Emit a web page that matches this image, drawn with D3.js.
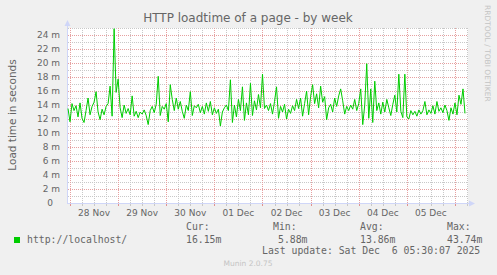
<!DOCTYPE html>
<html lang="en">
<head>
    <meta charset="UTF-8">
    <title>HTTP loadtime of a page - by week</title>
    <script src="https://d3js.org/d3.v7.min.js"></script>
    <style>
        body { margin: 0; background: #f0f0f0; }
        text { font-family: "DejaVu Sans", sans-serif; fill: #666; }
        .mono { font-family: "DejaVu Sans Mono", monospace; font-size: 9.8px; }
    </style>
</head>
<body>
<div id="chart"></div>
<script>
    // hourly load time samples (ms), Nov 27 23:00 .. Dec 6 05:00
    const loadMs = [
        13.5, 11.6, 14.2, 13.2, 13.9, 12.3, 14.3, 12.1, 11.5, 13.2,
        15.0, 12.6, 13.8, 14.4, 15.9, 13.0, 11.9, 13.4, 12.6, 13.8,
        14.2, 16.7, 12.4, 24.9, 15.8, 17.7, 13.6, 12.2, 14.0, 12.8,
        13.5, 12.6, 15.3, 12.4, 13.1, 12.2, 13.0, 12.7, 13.3, 12.5,
        11.2, 13.2, 13.8, 12.9, 14.1, 18.1, 12.5, 13.8, 13.4, 14.2,
        11.6, 16.9, 14.8, 13.2, 15.0, 13.4, 14.5, 13.1, 12.1, 14.0,
        13.2, 15.9, 12.5, 13.9, 13.6, 14.1, 12.9, 13.8, 12.7, 14.3,
        13.1, 14.5, 12.6, 13.6, 12.8, 13.4, 11.0, 13.0, 13.6, 14.0,
        13.2, 17.6, 11.5, 14.0, 12.3, 14.8, 13.2, 16.6, 11.8, 14.3,
        12.6, 17.1, 12.5, 14.6, 13.3, 15.5, 13.6, 18.4, 13.5, 14.0,
        13.2, 14.2, 12.7, 14.5, 16.6, 12.1, 13.8, 13.0, 14.1, 12.0,
        13.4, 12.8, 13.9, 13.2, 14.8, 13.5, 15.0, 12.4, 14.2, 16.0,
        12.6, 15.2, 16.9, 14.2, 15.6, 13.6, 16.7, 14.4, 15.2, 11.9,
        13.6, 14.1, 13.0, 15.0, 13.8, 15.3, 16.3, 14.6, 12.7, 13.8,
        13.2, 14.0, 13.4, 14.8, 13.2, 14.2, 16.3, 11.2, 14.0, 19.9,
        12.1, 16.3, 11.5, 17.4, 13.2, 14.3, 12.7, 14.4, 13.0, 14.8,
        13.6, 12.5, 14.1, 15.4, 13.0, 18.4, 13.1, 12.2, 18.4, 12.3,
        12.0, 13.2, 12.6, 13.1, 12.4, 13.3, 12.7, 13.2, 14.5, 12.6,
        13.3, 12.8, 13.9, 12.7, 14.5, 13.1, 13.6, 12.9, 14.0, 13.2,
        11.8, 13.6, 12.7, 14.3, 12.6, 15.4, 14.1, 16.3, 12.8
    ];
    const firstSample = new Date(Date.UTC(2025, 10, 27, 23, 0));
    const viewStart = new Date(Date.UTC(2025, 10, 27, 22, 30));
    const viewEnd = new Date(Date.UTC(2025, 11, 6, 6, 30));

    const yMax = 25;
    const legendHeads = ["Cur:", "Min:", "Avg:", "Max:"];
    const legendVals = ["16.15m", "5.88m", "13.86m", "43.74m"];
    const lastUpdate = "Last update: Sat Dec  6 05:30:07 2025";

    const W = 497, H = 275;
    const plotL = 67, plotR = 468, plotT = 28, plotB = 203;
    const minorGrid = "#c8c8c8", majorGrid = "#e6a0a0";

    const svg = d3.select("#chart").append("svg")
        .attr("width", W).attr("height", H);

    // dotted grid patterns (1px on, 1px off)
    const defs = svg.append("defs");
    [["hMinor", 2, 1, minorGrid], ["hMajor", 2, 1, majorGrid],
     ["vMinor", 1, 2, minorGrid], ["vMajor", 1, 2, majorGrid]].forEach(([id, pw, ph, c]) => {
        defs.append("pattern")
            .attr("id", id)
            .attr("patternUnits", "userSpaceOnUse")
            .attr("width", pw).attr("height", ph)
            .append("rect").attr("width", 1).attr("height", 1).attr("fill", c);
    });

    svg.append("rect").attr("width", W).attr("height", H).attr("fill", "#f0f0f0");
    svg.append("rect")
        .attr("x", plotL).attr("y", plotT)
        .attr("width", plotR - plotL).attr("height", plotB - plotT)
        .attr("fill", "#fff");

    const x = d3.scaleUtc().domain([viewStart, viewEnd]).range([plotL, plotR]);
    const y = d3.scaleLinear().domain([0, yMax]).range([plotB, plotT]);

    const data = loadMs.map((v, i) => ({ t: d3.utcHour.offset(firstSample, i), v: v }));

    const grid = svg.append("g").attr("shape-rendering", "crispEdges");

    // horizontal grid
    d3.range(1, yMax + 1).forEach(v => {
        grid.append("rect")
            .attr("x", plotL + 1).attr("width", plotR - plotL - 1)
            .attr("y", Math.round(y(v))).attr("height", 1)
            .attr("fill", v % 2 === 0 ? "url(#hMajor)" : "url(#hMinor)");
    });

    // vertical grid: minor every 6 h, major at midnight
    d3.utcHour.every(6).range(viewStart, viewEnd).forEach(t => {
        const major = t.getUTCHours() === 0;
        const px = Math.round(x(t));
        grid.append("rect")
            .attr("x", px).attr("width", 1)
            .attr("y", plotT).attr("height", plotB - plotT)
            .attr("fill", major ? "url(#vMajor)" : "url(#vMinor)");
        // small tick under the axis
        grid.append("rect")
            .attr("x", px).attr("width", 1)
            .attr("y", plotB + 1).attr("height", 2)
            .attr("fill", major ? "#e09090" : "#c8c8c8");
    });

    // y tick labels
    d3.range(0, yMax, 2).forEach(v => {
        svg.append("text")
            .attr("x", v === 0 ? 53 : 60)
            .attr("y", y(v) + 3.2)
            .attr("text-anchor", "end")
            .attr("font-size", "9px")
            .text(v === 0 ? "0" : v + " m");
    });

    // x labels at noon
    const fmt = d3.utcFormat("%d %b");
    d3.utcDay.range(viewStart, viewEnd).forEach(d => {
        const noon = d3.utcHour.offset(d, 12);
        if (noon > viewEnd) return;
        svg.append("text")
            .attr("x", x(noon))
            .attr("y", 216)
            .attr("text-anchor", "middle")
            .attr("font-size", "9px")
            .text(fmt(noon));
    });

    // axes with arrows
    const axisColor = "#cfd6f8";
    svg.append("line")
        .attr("x1", plotL + 0.5).attr("x2", plotL + 0.5)
        .attr("y1", plotB).attr("y2", 22)
        .attr("stroke", axisColor);
    svg.append("line")
        .attr("x1", plotL).attr("x2", 472)
        .attr("y1", plotB + 0.5).attr("y2", plotB + 0.5)
        .attr("stroke", axisColor);
    svg.append("path")
        .attr("d", `M${plotL - 2.5},26 L${plotL + 0.5},20 L${plotL + 3.5},26 Z`)
        .attr("fill", axisColor);
    svg.append("path")
        .attr("d", `M469,${plotB - 2.5} L475,${plotB + 0.5} L469,${plotB + 3.5} Z`)
        .attr("fill", axisColor);

    // data line
    const line = d3.line()
        .x(d => x(d.t))
        .y(d => y(d.v));
    svg.append("path")
        .datum(data)
        .attr("d", line)
        .attr("fill", "none")
        .attr("stroke", "#00cc00")
        .attr("stroke-width", 1);

    // title
    svg.append("text")
        .attr("x", 248).attr("y", 22)
        .attr("text-anchor", "middle")
        .attr("font-size", "12px")
        .text("HTTP loadtime of a page - by week");

    // y axis label
    svg.append("text")
        .attr("transform", "translate(16,115) rotate(-90)")
        .attr("text-anchor", "middle")
        .attr("font-size", "10.5px")
        .text("Load time in seconds");

    // rrdtool watermark
    svg.append("text")
        .attr("transform", "translate(485,5) rotate(90)")
        .attr("font-size", "7.5px")
        .style("fill", "#c4c4c4")
        .text("RRDTOOL / TOBI OETIKER");

    // legend
    svg.append("rect")
        .attr("x", 14).attr("y", 237).attr("width", 6).attr("height", 6)
        .attr("fill", "#00cc00");
    svg.append("text").attr("class", "mono")
        .attr("x", 27).attr("y", 243).text("http://localhost/");

    const headX = [186, 273, 360, 447];
    const valX = [186, 278, 360, 447];
    legendHeads.forEach((h, i) => {
        svg.append("text").attr("class", "mono")
            .attr("x", headX[i]).attr("y", 230).text(h);
        svg.append("text").attr("class", "mono")
            .attr("x", valX[i]).attr("y", 243).text(legendVals[i]);
    });
    svg.append("text").attr("class", "mono")
        .attr("x", 262).attr("y", 254)
        .style("white-space", "pre")
        .text(lastUpdate);

    svg.append("text")
        .attr("x", 248).attr("y", 266)
        .attr("text-anchor", "middle")
        .attr("font-size", "7.5px")
        .style("fill", "#c4c4c4")
        .text("Munin 2.0.75");
</script>
</body>
</html>
